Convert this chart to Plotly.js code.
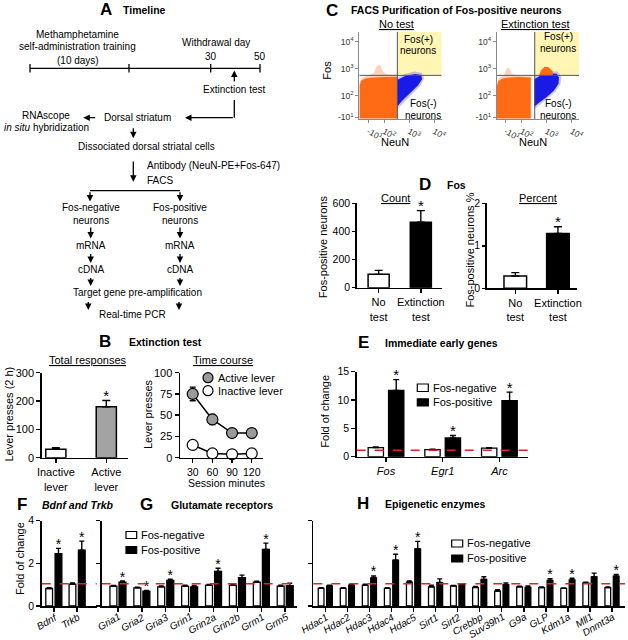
<!DOCTYPE html>
<html><head><meta charset="utf-8">
<script src="https://cdn.plot.ly/plotly-3.0.1.min.js"></script>
<style>html,body{margin:0;padding:0;background:#fff}#chart{width:628px;height:640px}</style>
</head><body><div id="chart"></div>
<script>
// ---------------- DATA ----------------
// B: Extinction test
const bCats = ['Inactive<br>lever', 'Active<br>lever'];
const bTotal = [30, 180];
const bTotalSem = [5, 22];
const bSig = [0, 1];
const bMinutes = [30, 60, 90, 120];
const bActive = [75, 45, 29, 29];
const bActiveSem = [8, 6, 4, 3];
const bInactive = [15, 5, 4, 5];
const bInactiveSem = [2, 1, 1, 1];

// C: FACS gates (log-scaled units) and cloud outlines
const facsTickVals = [1.37, 2, 3, 4];
const facsYTickVals = [1.22, 2, 3, 4];
const facsTickText = ['-10<sup>1</sup>', '10<sup>2</sup>', '10<sup>3</sup>', '10<sup>4</sup>'];
const gateNeuN = 2.53;
const gateFos = 2.76;
const noOrangeHaloX = [1.01, 1.01, 1.1, 1.4, 1.6, 1.7, 1.85, 1.95, 2.1, 2.53, 2.53, 1.01];
const noOrangeHaloY = [1.15, 2.45, 2.66, 2.76, 2.86, 3.1, 3.15, 2.9, 2.8, 2.78, 1.15, 1.15];
const noOrangeX = [1.02, 1.02, 1.08, 1.24, 1.52, 2.04, 2.52, 2.52, 1.02];
const noOrangeY = [1.18, 2.37, 2.55, 2.64, 2.68, 2.7, 2.71, 1.18, 1.18];
const noBlueHaloX = [2.52, 2.8, 3.2, 3.5, 3.6, 3.45, 3.1, 2.75, 2.52, 2.52];
const noBlueHaloY = [2.66, 2.8, 2.9, 2.86, 2.66, 2.38, 2.05, 1.72, 1.5, 2.66];
const noBlueX = [2.52, 2.84, 3.24, 3.48, 3.52, 3.36, 3.04, 2.72, 2.52, 2.52];
const noBlueY = [2.59, 2.74, 2.81, 2.77, 2.63, 2.4, 2.11, 1.82, 1.6, 2.59];
const exOrangeHaloX = [1.01, 1.01, 1.1, 1.3, 1.4, 1.5, 1.6, 1.75, 2.0, 2.4, 2.4, 1.01];
const exOrangeHaloY = [1.15, 2.45, 2.66, 2.75, 3.0, 3.05, 2.82, 2.76, 2.74, 2.72, 1.15, 1.15];
const exOrangeX = [1.02, 1.02, 1.08, 1.24, 1.5, 1.9, 2.37, 2.37, 1.02];
const exOrangeY = [1.18, 2.37, 2.55, 2.64, 2.68, 2.7, 2.68, 1.18, 1.18];
const exBlueHaloX = [2.51, 2.8, 3.1, 3.45, 3.6, 3.55, 3.35, 3.0, 2.7, 2.51, 2.51];
const exBlueHaloY = [2.7, 2.85, 2.92, 2.9, 2.7, 2.42, 2.15, 1.88, 1.66, 1.5, 2.7];
const exBlueX = [2.51, 2.8, 3.1, 3.4, 3.5, 3.48, 3.3, 3.0, 2.7, 2.51, 2.51];
const exBlueY = [2.62, 2.77, 2.84, 2.82, 2.68, 2.45, 2.2, 1.95, 1.75, 1.6, 2.62];
const exFosPosX = [2.7, 2.78, 2.92, 3.08, 3.24, 3.26, 3.0, 2.75, 2.7];
const exFosPosY = [2.75, 2.95, 3.08, 3.06, 2.92, 2.76, 2.74, 2.74, 2.75];

// D: Fos
const dCats = ['No<br>test', 'Extinction<br>test'];
const dCount = [95, 465];
const dCountSem = [28, 83];
const dPct = [0.29, 1.29];
const dPctSem = [0.08, 0.16];
const dSig = [0, 1];

// E: Immediate early genes
const eCats = ['<i>Fos</i>', '<i>Egr1</i>', '<i>Arc</i>'];
const eNeg = [1.6, 1.25, 1.5];
const eNegSem = [0.1, 0.08, 0.1];
const ePos = [11.7, 3.3, 9.9];
const ePosSem = [1.9, 0.45, 1.5];
const eSig = [1, 1, 1];
const eRef = 1.15;

// F: Bdnf and Trkb
const fCats = ['<i>Bdnf</i>', '<i>Trkb</i>'];
const fNeg = [0.82, 1.03];
const fNegSem = [0.04, 0.05];
const fPos = [2.45, 2.62];
const fPosSem = [0.25, 0.42];
const fSig = [1, 1];

// G: Glutamate receptors
const gCats = ['<i>Gria1</i>', '<i>Gria2</i>', '<i>Gria3</i>', '<i>Grin1</i>', '<i>Grin2a</i>', '<i>Grin2b</i>', '<i>Grm1</i>', '<i>Grm5</i>'];
const gNeg = [0.93, 0.85, 0.9, 0.93, 0.98, 0.98, 1.12, 0.93];
const gNegSem = [0.03, 0.03, 0.04, 0.04, 0.03, 0.03, 0.04, 0.05];
const gPos = [1.12, 0.7, 1.2, 0.9, 1.62, 1.33, 2.65, 0.95];
const gPosSem = [0.05, 0.03, 0.06, 0.06, 0.15, 0.12, 0.3, 0.12];
const gSig = [1, 1, 1, 0, 1, 0, 1, 0];

// H: Epigenetic enzymes
const hCats = ['<i>Hdac1</i>', '<i>Hdac2</i>', '<i>Hdac3</i>', '<i>Hdac4</i>', '<i>Hdac5</i>', '<i>Sirt1</i>', '<i>Sirt2</i>', '<i>Crebbp</i>', '<i>Suv39h1</i>', '<i>G9a</i>', '<i>GLP</i>', '<i>Kdm1a</i>', '<i>Mll1</i>', '<i>Dnmt3a</i>'];
const hNeg = [0.83, 0.83, 0.98, 0.83, 1.12, 0.9, 0.94, 0.87, 0.7, 0.9, 0.86, 0.83, 1.08, 0.86];
const hNegSem = [0.03, 0.03, 0.04, 0.03, 0.05, 0.07, 0.02, 0.05, 0.06, 0.03, 0.03, 0.02, 0.04, 0.03];
const hPos = [0.94, 0.98, 1.32, 2.15, 2.68, 1.1, 1.0, 1.25, 1.0, 0.87, 1.2, 1.22, 1.37, 1.4];
const hPosSem = [0.03, 0.03, 0.09, 0.28, 0.35, 0.17, 0.03, 0.12, 0.08, 0.07, 0.08, 0.08, 0.17, 0.08];
const hSig = [0, 0, 1, 1, 1, 0, 0, 0, 0, 0, 1, 1, 0, 1];
const fghRef = 1.04;

// ---------------- HELPERS ----------------
const W = 628, H = 640;
const FONT = 'Liberation Sans, Arial, Helvetica, sans-serif';
const px = x => x / W;
const py = y => 1 - y / H;
const dom = (a, b) => [px(a), px(b)];
const domY = (top, bottom) => [py(bottom), py(top)];
const idx = arr => arr.map((_, i) => i);
// data units per screen pixel on a y axis: (range span) / (pixel height)
const upp = (range, topPx, bottomPx) => (range[1] - range[0]) / (bottomPx - topPx);

function eb(sem, w) {
  return {type: 'data', symmetric: false, array: sem, arrayminus: sem.map(() => 0),
          color: '#000', thickness: 1.4, width: w || 3};
}
// significance stars, centred a few pixels above the error-bar caps
function stars(xa, ya, xs, tops, sig, size, unitsPerPx) {
  return {type: 'scatter', mode: 'text', x: xs, y: tops.map((v, i) => sig[i] ? v + 3 * unitsPerPx : null),
          text: tops.map(() => '*'), textposition: 'middle center', textfont: {size: size || 15, color: '#000', family: FONT},
          cliponaxis: false, xaxis: xa, yaxis: ya, hoverinfo: 'skip'};
}
function grouped(xa, ya, cats, neg, negSem, pos, posSem, sig, w, d, capW, starSize, unitsPerPx) {
  const xi = idx(cats);
  const xn = xi.map(i => i - d), xp = xi.map(i => i + d);
  return [
    {type: 'bar', x: xn, y: neg, width: w, xaxis: xa, yaxis: ya,
     marker: {color: '#fff', line: {color: '#000', width: 1.3}}, error_y: eb(negSem, capW)},
    {type: 'bar', x: xp, y: pos, width: w, xaxis: xa, yaxis: ya,
     marker: {color: '#000', line: {color: '#000', width: 1.3}}, error_y: eb(posSem, capW)},
    stars(xa, ya, xp, pos.map((v, i) => v + posSem[i]), sig, starSize, unitsPerPx)
  ];
}
function poly(xa, ya, xs, ys, color, op) {
  return {type: 'scatter', mode: 'none', x: xs, y: ys, fill: 'toself', fillcolor: color,
          opacity: op, xaxis: xa, yaxis: ya, hoverinfo: 'skip'};
}

// axis geometry (pixels) and ranges
const bRange = [0, 300], b2Range = [0, 100], d1Range = [0, 600], d2Range = [0, 2], eRange = [0, 15], fghRange = [0, 4];
const uB = upp(bRange, 372.7, 457.7), uD1 = upp(d1Range, 203.3, 287.7), uD2 = upp(d2Range, 203.3, 288.3);
const uE = upp(eRange, 371.7, 456.7), uF = upp(fghRange, 520.7, 606);

// ---------------- TRACES ----------------
const traces = [];
// B left
traces.push({type: 'bar', x: idx(bCats), y: bTotal, width: 0.4, xaxis: 'x', yaxis: 'y',
  marker: {color: ['#ffffff', '#a3a3a3'], line: {color: '#000', width: 1.5}}, error_y: eb(bTotalSem, 4)});
traces.push(stars('x', 'y', idx(bCats), bTotal.map((v, i) => v + bTotalSem[i]), bSig, 15, uB));
// B right
traces.push({type: 'scatter', mode: 'lines+markers', x: bMinutes, y: bActive, xaxis: 'x2', yaxis: 'y2',
  line: {color: '#000', width: 1.5}, marker: {size: 11, color: '#9a9a9a', line: {color: '#000', width: 1.2}},
  error_y: {type: 'data', array: bActiveSem, color: '#000', thickness: 1.4, width: 3}, cliponaxis: false});
traces.push({type: 'scatter', mode: 'lines+markers', x: bMinutes, y: bInactive, xaxis: 'x2', yaxis: 'y2',
  line: {color: '#000', width: 1.5}, marker: {size: 11, color: '#ffffff', line: {color: '#000', width: 1.2}},
  error_y: {type: 'data', array: bInactiveSem, color: '#000', thickness: 1.4, width: 3}, cliponaxis: false});
// C FACS
const ORANGE = '#ff6a14', BLUE = '#1a1ae6';
traces.push(poly('x3', 'y3', noOrangeHaloX, noOrangeHaloY, ORANGE, 0.3));
traces.push(poly('x3', 'y3', noBlueHaloX, noBlueHaloY, BLUE, 0.25));
traces.push(poly('x3', 'y3', noOrangeX, noOrangeY, ORANGE, 1));
traces.push(poly('x3', 'y3', noBlueX, noBlueY, BLUE, 1));
traces.push(poly('x4', 'y4', exOrangeHaloX, exOrangeHaloY, ORANGE, 0.3));
traces.push(poly('x4', 'y4', exBlueHaloX, exBlueHaloY, BLUE, 0.25));
traces.push(poly('x4', 'y4', exOrangeX, exOrangeY, ORANGE, 1));
traces.push(poly('x4', 'y4', exBlueX, exBlueY, BLUE, 1));
traces.push(poly('x4', 'y4', exFosPosX, exFosPosY, ORANGE, 1));
// D
traces.push({type: 'bar', x: idx(dCats), y: dCount, width: 0.5, xaxis: 'x5', yaxis: 'y5',
  marker: {color: ['#fff', '#000'], line: {color: '#000', width: 1.5}}, error_y: eb(dCountSem, 4)});
traces.push(stars('x5', 'y5', idx(dCats), dCount.map((v, i) => v + dCountSem[i]), dSig, 15, uD1));
traces.push({type: 'bar', x: idx(dCats), y: dPct, width: 0.53, xaxis: 'x6', yaxis: 'y6',
  marker: {color: ['#fff', '#000'], line: {color: '#000', width: 1.5}}, error_y: eb(dPctSem, 4)});
traces.push(stars('x6', 'y6', idx(dCats), dPct.map((v, i) => v + dPctSem[i]), dSig, 15, uD2));
// E-H
traces.push(...grouped('x7', 'y7', eCats, eNeg, eNegSem, ePos, ePosSem, eSig, 0.27, 0.18, 3, 15, uE));
traces.push(...grouped('x8', 'y8', fCats, fNeg, fNegSem, fPos, fPosSem, fSig, 0.29, 0.2, 2.5, 14, uF));
traces.push(...grouped('x9', 'y9', gCats, gNeg, gNegSem, gPos, gPosSem, gSig, 0.29, 0.19, 2.5, 14, uF));
traces.push(...grouped('x10', 'y10', hCats, hNeg, hNegSem, hPos, hPosSem, hSig, 0.26, 0.19, 2.5, 14, uF));

// ---------------- LAYOUT ----------------
const base = {showgrid: false, zeroline: false, showline: true, linecolor: '#000', linewidth: 1.5,
  ticks: 'outside', ticklen: 4, tickwidth: 1.5, tickcolor: '#000', fixedrange: true, automargin: false,
  tickfont: {size: 11, color: '#000', family: FONT}};
const ax = extra => Object.assign({}, base, extra);
const facsAx = extra => Object.assign({}, base, {linecolor: '#8a8a8a', linewidth: 1, tickcolor: '#8a8a8a',
  tickwidth: 1, ticklen: 3, tickfont: {size: 8.5, color: '#333', family: FONT}}, extra);
const f105 = {size: 10.5, color: '#000', family: FONT};

function T(text, x, y, opt) {
  return Object.assign({text: text, x: px(x), y: py(y), xref: 'paper', yref: 'paper', showarrow: false,
    xanchor: 'center', yanchor: 'middle', font: {size: 10, color: '#000', family: FONT}}, opt || {});
}
function TL(text, x, y, size, bold) {
  return T(bold ? '<b>' + text + '</b>' : text, x, y, {xanchor: 'left', font: {size: size, color: '#000', family: FONT}});
}
function HEAD(letter, lx, text, tx, y) {
  return [T('<b>' + letter + '</b>', lx, y, {font: {size: 17, color: '#000', family: FONT}}),
          TL(text, tx, y + 0.5, 10.5, true)];
}
function VT(text, x, y, size) {
  return T(text, x, y, {textangle: -90, font: {size: size || 11, color: '#000', family: FONT}});
}
function Arr(x0, y0, x1, y1) {
  return {x: px(x1), y: py(y1), ax: px(x0), ay: py(y0), xref: 'paper', yref: 'paper', axref: 'paper', ayref: 'paper',
    text: '', showarrow: true, arrowhead: 2, arrowsize: 1, arrowwidth: 1.3, arrowcolor: '#000', standoff: 0, startstandoff: 0};
}
function L(x0, y0, x1, y1, w, color, dash) {
  return {type: 'line', xref: 'paper', yref: 'paper', x0: px(x0), y0: py(y0), x1: px(x1), y1: py(y1),
    line: {color: color || '#000', width: w || 1.3, dash: dash || 'solid'}};
}
function R(x0, y0, x1, y1, fill) {
  return {type: 'rect', xref: 'paper', yref: 'paper', x0: px(x0), y0: py(y1), x1: px(x1), y1: py(y0),
    fillcolor: fill, line: {color: '#000', width: 1.2}};
}
function C(cx, cy, r, fill) {
  return {type: 'circle', xref: 'paper', yref: 'paper', x0: px(cx - r), x1: px(cx + r), y0: py(cy + r), y1: py(cy - r),
    fillcolor: fill, line: {color: '#000', width: 1.2}};
}
function refLine(xa, ya, v) {
  return {type: 'line', xref: xa + ' domain', yref: ya, x0: 0, x1: 1, y0: v, y1: v,
    line: {color: '#e0202a', width: 1.5, dash: 'dash'}};
}
// rotated category labels, drawn through the x axis scale
function rotLabels(xa, cats, shift) {
  return cats.map((c, i) => ({text: c, x: i + shift, y: py(608.5), xref: xa, yref: 'paper', showarrow: false,
    xanchor: 'right', yanchor: 'top', textangle: -30, font: {size: 10, color: '#000', family: FONT}}));
}

const annotations = [
  // Panel A
  ...HEAD('A', 105.7, 'Timeline', 120.7, 9.3),
  T('Methamphetamine', 77.7, 34.3), T('self-administration training', 77.7, 46.7), T('(10 days)', 77.7, 60),
  T('Withdrawal day', 216, 42.3), T('30', 210.7, 56.7), T('50', 260, 56.7),
  T('Extinction test', 234.3, 89.3),
  T('Dorsal striatum', 137.7, 117.7),
  T('RNAscope', 46, 115), T('<i>in situ</i> hybridization', 46.2, 127.7),
  T('Dissociated dorsal striatal cells', 146.7, 146.7),
  TL('Antibody (NeuN-PE+Fos-647)', 145, 165, 10), TL('FACS', 145, 180, 10),
  T('Fos-negative', 90.7, 207.3), T('neurons', 90.7, 220.7),
  T('Fos-positive', 180, 207.3), T('neurons', 180, 220.7),
  T('mRNA', 90.7, 245), T('mRNA', 180, 245), T('cDNA', 90.7, 269.3), T('cDNA', 180, 269.3),
  T('Target gene pre-amplification', 137.7, 292.7), T('Real-time PCR', 132.7, 314.3),
  Arr(234.3, 83, 234.3, 70.5), Arr(234.3, 117.7, 185, 117.7), Arr(96.7, 117.7, 83.3, 117.7),
  Arr(133.3, 126.7, 133.3, 138.3), Arr(133.3, 160, 133.3, 181.7),
  Arr(90, 190.7, 90, 201.5), Arr(180, 190.7, 180, 201.5),
  Arr(90.7, 226, 90.7, 238.5), Arr(180, 226, 180, 238.5),
  Arr(90.7, 252.5, 90.7, 263), Arr(180, 252.5, 180, 263),
  Arr(90.7, 276.5, 90.7, 286), Arr(180, 276.5, 180, 286),
  Arr(88.3, 300.5, 88.3, 310), Arr(179, 300.5, 179, 310),
  // Panel B
  ...HEAD('B', 105, 'Extinction test', 127, 341.7),
  T('<u>Total responses</u>', 88, 360, {font: {size: 11, color: '#000', family: FONT}}),
  T('<u>Time course</u>', 222.5, 360, {font: {size: 11, color: '#000', family: FONT}}),
  VT('Lever presses (2 h)', 8.5, 414), VT('Lever presses', 148, 414),
  T('Session minutes', 226.3, 483, {font: {size: 10.5, color: '#000', family: FONT}}),
  TL('Active lever', 216, 377.7, 11), TL('Inactive lever', 216, 390.7, 11),
  // Panel C
  ...HEAD('C', 331.7, 'FACS Purification of Fos-positive neurons', 349.3, 10),
  T('<u>No test</u>', 396.7, 24.3, {font: {size: 11, color: '#000', family: FONT}}),
  T('<u>Extinction test</u>', 535, 24.3, {font: {size: 11, color: '#000', family: FONT}}),
  VT('Fos', 326.7, 70), T('NeuN', 395, 141.7, {font: {size: 11, color: '#000', family: FONT}}),
  T('NeuN', 532.7, 141.7, {font: {size: 11, color: '#000', family: FONT}}),
  T('Fos(+)', 418.3, 39.3), T('neurons', 418.3, 50.7), T('Fos(-)', 423.3, 104), T('neurons', 423.3, 115),
  T('Fos(+)', 558.3, 36), T('neurons', 558.3, 48.3), T('Fos(-)', 558.3, 104), T('neurons', 558.3, 115),
  // Panel D
  ...HEAD('D', 425, 'Fos', 445, 184.5),
  T('<u>Count</u>', 395, 198.3, {font: {size: 11, color: '#000', family: FONT}}),
  T('<u>Percent</u>', 537.7, 198.3, {font: {size: 11, color: '#000', family: FONT}}),
  VT('Fos-positive neurons', 322.5, 246.7), VT('Fos-positive neurons %', 469.5, 250),
  // Panel E
  ...HEAD('E', 363.3, 'Immediate early genes', 383.3, 342.7),
  VT('Fold of change', 325, 411.7),
  TL('Fos-negative', 430.7, 387.7, 11), TL('Fos-positive', 430.7, 402.3, 11),
  // Panel F
  T('<b>F</b>', 21.7, 504, {font: {size: 17, color: '#000', family: FONT}}),
  TL('<i>Bdnf and Trkb</i>', 40, 504.5, 10.5, true),
  VT('Fold of change', 20, 559),
  ...rotLabels('x8', fCats, 0.36),
  // Panel G
  ...HEAD('G', 146.7, 'Glutamate receptors', 169.3, 504),
  TL('Fos-negative', 139, 535, 11), TL('Fos-positive', 139, 550, 11),
  ...rotLabels('x9', gCats, 0.3),
  // Panel H
  ...HEAD('H', 362.7, 'Epigenetic enzymes', 383.3, 503.3),
  TL('Fos-negative', 464.5, 543.3, 11), TL('Fos-positive', 464.5, 558.3, 11),
  ...rotLabels('x10', hCats, 0.33)
];

const facsShapes = (xa, ya) => [
  {type: 'rect', xref: xa, yref: ya, x0: gateNeuN, x1: 4.3, y0: gateFos, y1: 4.37, fillcolor: '#fff6b3', line: {width: 0}, layer: 'below'},
  {type: 'line', xref: xa, yref: ya, x0: gateNeuN, x1: gateNeuN, y0: 1.14, y1: 4.37, line: {color: '#555', width: 1}},
  {type: 'line', xref: xa, yref: ya, x0: 1.01, x1: 4.3, y0: gateFos, y1: gateFos, line: {color: '#555', width: 1}}
];

const shapes = [
  // timeline
  L(30, 68.3, 260, 68.3), L(30, 64, 30, 72.5), L(129, 64, 129, 72.5), L(210.7, 64, 210.7, 72.5), L(260, 64, 260, 72.5),
  L(234.3, 100, 234.3, 117.7), L(90, 190.7, 180, 190.7),
  // legends
  C(208, 377.7, 5, '#9a9a9a'), C(208, 390.7, 5, '#fff'),
  R(417.3, 384, 428.3, 391.5, '#fff'), R(417.3, 398.8, 428.3, 406, '#000'),
  R(126, 531.5, 136.7, 538.5, '#fff'), R(126, 546.5, 136.7, 553.5, '#000'),
  R(451.7, 540, 462.7, 547, '#fff'), R(451.7, 555, 462.7, 562, '#000'),
  // reference lines
  refLine('x7', 'y7', eRef), refLine('x8', 'y8', fghRef), refLine('x9', 'y9', fghRef), refLine('x10', 'y10', fghRef),
  ...facsShapes('x3', 'y3'), ...facsShapes('x4', 'y4')
];

const fghY = domY(520.7, 606);
const layout = {
  width: W, height: H, margin: {l: 0, r: 0, t: 0, b: 0}, paper_bgcolor: '#fff', plot_bgcolor: 'rgba(0,0,0,0)',
  showlegend: false, barmode: 'overlay', font: {family: FONT, color: '#000'},
  xaxis: ax({domain: dom(41.7, 128), anchor: 'y', range: [-0.28, 1.43], tickvals: idx(bCats), ticktext: bCats}),
  yaxis: ax({domain: domY(372.7, 457.7), anchor: 'x', range: bRange, tickvals: [0, 100, 200, 300]}),
  xaxis2: ax({domain: dom(180, 263), anchor: 'y2', range: [10.6, 137.2], tickvals: bMinutes, tickfont: f105}),
  yaxis2: ax({domain: domY(372.7, 457.7), anchor: 'x2', range: b2Range, tickvals: [0, 25, 50, 75, 100]}),
  xaxis3: facsAx({domain: dom(359.3, 441.7), anchor: 'y3', range: [1.01, 4.3], tickvals: facsTickVals, ticktext: facsTickText}),
  yaxis3: facsAx({domain: domY(31.7, 119.3), anchor: 'x3', range: [1.14, 4.37], tickvals: facsYTickVals, ticktext: facsTickText}),
  xaxis4: facsAx({domain: dom(496.7, 579), anchor: 'y4', range: [1.01, 4.3], tickvals: facsTickVals, ticktext: facsTickText}),
  yaxis4: facsAx({domain: domY(31.7, 119.3), anchor: 'x4', range: [1.14, 4.37], tickvals: facsYTickVals, ticktext: facsTickText}),
  xaxis5: ax({domain: dom(356.7, 441.7), anchor: 'y5', range: [-0.52, 1.495], tickvals: idx(dCats), ticktext: dCats}),
  yaxis5: ax({domain: domY(203.3, 287.7), anchor: 'x5', range: d1Range, tickvals: [0, 200, 400, 600], tickfont: f105, ticklen: 3}),
  xaxis6: ax({domain: dom(486.7, 576.7), anchor: 'y6', range: [-0.67, 1.44], tickvals: idx(dCats), ticktext: dCats}),
  yaxis6: ax({domain: domY(203.3, 288.3), anchor: 'x6', range: d2Range, tickvals: [0, 1, 2], tickfont: f105, ticklen: 3}),
  xaxis7: ax({domain: dom(356.7, 528.3), anchor: 'y7', range: [-0.517, 2.51], tickvals: idx(eCats), ticktext: eCats}),
  yaxis7: ax({domain: domY(371.7, 456.7), anchor: 'x7', range: eRange, tickvals: [0, 5, 10, 15], tickfont: f105}),
  xaxis8: ax({domain: dom(41.7, 96.7), anchor: 'y8', range: [-0.52, 1.84], tickvals: idx(fCats), showticklabels: false}),
  yaxis8: ax({domain: fghY, anchor: 'x8', range: fghRange, tickvals: [0, 2, 4], tickfont: f105}),
  xaxis9: ax({domain: dom(101.7, 296.7), anchor: 'y9', range: [-0.68, 7.48], tickvals: idx(gCats), showticklabels: false}),
  yaxis9: ax({domain: fghY, anchor: 'x9', range: fghRange, tickvals: [0, 2, 4], showticklabels: false}),
  xaxis10: ax({domain: dom(313.3, 625), anchor: 'y10', range: [-0.544, 13.59], tickvals: idx(hCats), showticklabels: false}),
  yaxis10: ax({domain: fghY, anchor: 'x10', range: fghRange, tickvals: [0, 2, 4], showticklabels: false}),
  annotations: annotations,
  shapes: shapes
};

Plotly.newPlot('chart', traces, layout, {staticPlot: true, displayModeBar: false});
</script></body></html>
